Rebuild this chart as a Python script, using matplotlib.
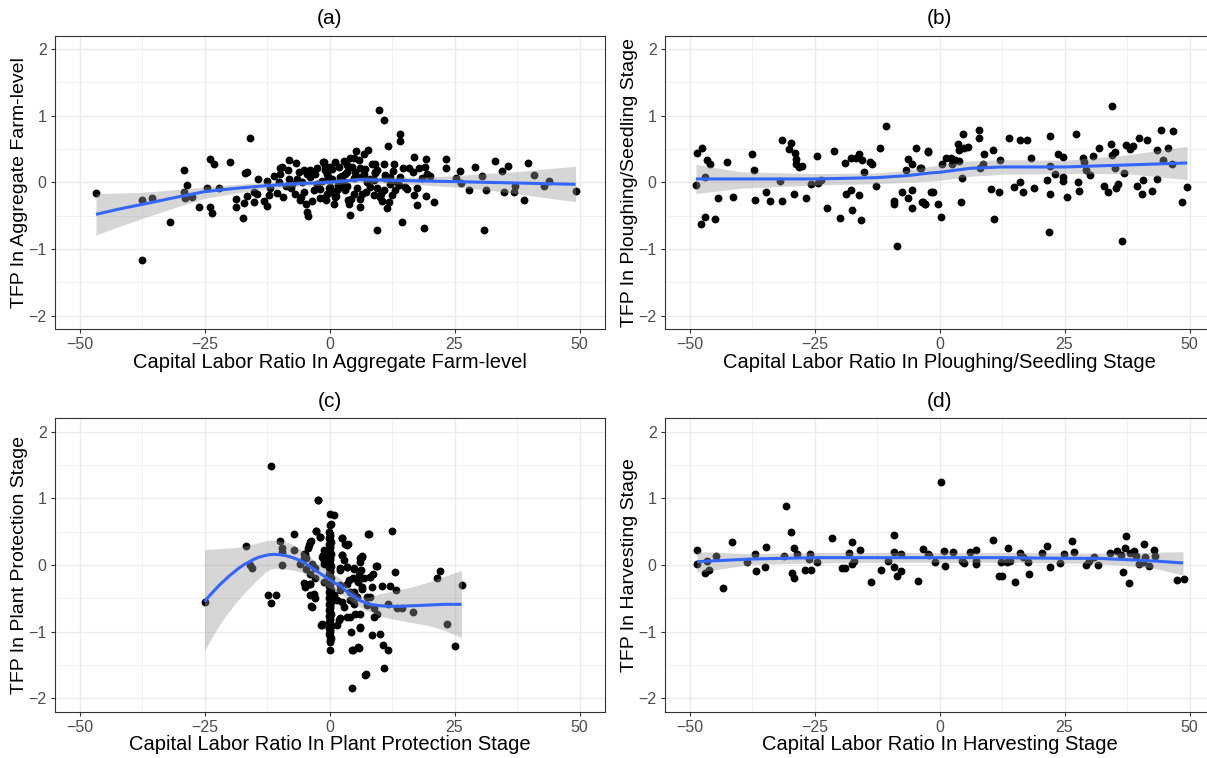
"""
Four-panel scatter: TFP vs capital-labour ratio by farming stage,
each with a loess-style smoother and its confidence band (read off the source figure).
"""

import matplotlib.pyplot as plt

plt.rcParams["font.family"] = ["Liberation Sans", "DejaVu Sans"]

# ---------------------------------------------------------------------------
# Panel (a): aggregate farm-level
# ---------------------------------------------------------------------------
A_X = [-46.7, -37.6, -35.5, -31.9, -37.6, -29.2, -28.6, -29.2, -29.0, -27.5,
       -26.1, -24.6, -24.0, -23.2, -24.0, -23.6, -22.2, -20.0, -18.8, -18.8,
       -17.4, -17.2, -17.0, -16.5, -15.9, -16.5, -15.2, -15.2, -14.6, -14.3,
       -13.1, -12.6, -12.6, -12.2, -11.9, -11.1, -10.6, -10.2, -9.9, -9.5,
       -9.4, -8.4, -8.2, -8.1, -7.8, -6.7, -6.6, -6.2, -5.8, -5.2,
       -4.8, -4.6, -4.4, -5.2, -4.0, -3.9, -3.2, -2.6, -1.9, -1.4,
       -0.9, -0.7, -0.4, -0.2,
       9.8, 10.8, 14.0, 14.1, 11.6, 5.3, 7.6, 6.8, 4.0, 4.8,
       2.8, 5.8, -1.2, 0.1, 1.8, 3.4, 4.4, 6.1, 9.1, 10.8,
       9.1, 11.1, 12.6, 14.6, 15.8, 16.8, 19.2, 19.0, 23.2, 23.2,
       26.1, 29.0, 33.0, 35.7, 34.5, 39.7, 40.9, 43.8, 42.9, 37.0,
       36.8, 34.8, 38.9, 49.2, 31.2, 30.4, 30.8, 27.9, 26.2, 25.2,
       20.1, 19.4, 18.5, 16.6, 17.4, 16.9, 17.4, 19.2, 20.8, 18.9,
       14.5, 9.4, 4.0, 6.1, 3.8, 0.8, 1.1, -1.2, 11.4, 11.8,
       12.4, 15.1, 14.1, 9.4, 10.1, 8.8, 6.4, 4.8, 3.1, 2.1,
       0.1, -0.6, 2.1, 4.8, 7.4, 6.8, 3.4, -0.6, 12.1, 13.4,
       10.8, 8.1,
       -8.8, -7.0, -5.5, -3.0, -2.0, -1.0, 0.5, 1.5, 2.5, 3.5,
       5.0, 6.0, 7.0, 8.0, 9.5, 10.5, 12.0, 13.0, -3.5, -1.5,
       0.0, 1.0, 2.0, 3.0, 5.5, 7.5, 8.5, -6.0, -4.5, 0.5,
       -10.0, -7.5, -2.5, 1.2, 2.6, 4.2, 6.6, 8.9, 11.0, 13.8,
       -0.3, 1.7, 3.7, 5.2, 7.2, 9.0, 10.2, 12.8, 15.5, 17.8]
A_Y = [-0.16, -0.27, -0.23, -0.60, -1.16, 0.18, -0.04, -0.14, -0.23, -0.22,
       -0.37, -0.08, 0.35, 0.27, -0.37, -0.46, -0.08, 0.30, -0.25, -0.37,
       -0.53, -0.31, 0.14, 0.15, 0.67, -0.20, -0.30, -0.15, -0.17, 0.05,
       -0.28, -0.35, 0.02, -0.19, -0.08, 0.10, -0.16, 0.01, 0.21, 0.23,
       -0.22, 0.18, 0.34, 0.05, -0.09, 0.29, 0.05, 0.16, -0.22, -0.14,
       -0.32, -0.44, -0.51, 0.18, 0.08, 0.18, -0.12, -0.02, -0.24, 0.31,
       0.18, -0.27, 0.08, -0.09,
       1.08, 0.94, 0.72, 0.62, 0.54, 0.47, 0.48, 0.43, 0.36, 0.36,
       0.32, 0.33, 0.31, 0.23, 0.23, 0.26, 0.23, 0.21, 0.28, 0.27,
       0.16, 0.11, 0.17, 0.22, 0.22, 0.38, 0.35, 0.23, 0.35, 0.22,
       0.17, 0.23, 0.32, 0.25, 0.17, 0.29, 0.11, 0.02, -0.05, -0.05,
       -0.14, -0.15, -0.27, -0.13, -0.11, 0.10, -0.72, -0.12, -0.01, 0.07,
       0.10, 0.12, 0.06, 0.16, -0.09, -0.19, -0.34, -0.20, -0.29, -0.69,
       -0.59, -0.72, -0.49, -0.37, -0.33, -0.33, -0.22, -0.24, -0.38, -0.29,
       -0.19, -0.07, 0.08, -0.09, -0.22, -0.19, -0.17, -0.17, -0.12, -0.07,
       -0.07, -0.17, 0.08, 0.06, 0.01, 0.13, 0.16, 0.13, -0.02, 0.01,
       -0.12, -0.07,
       -0.05, -0.18, 0.00, 0.12, -0.10, 0.25, 0.05, -0.12, 0.10, -0.05,
       0.15, -0.25, 0.20, 0.05, 0.18, -0.28, 0.08, -0.12, -0.28, 0.02,
       -0.15, 0.30, -0.02, 0.12, -0.08, 0.02, 0.28, -0.26, 0.12, 0.20,
       0.12, -0.03, 0.22, -0.20, 0.02, -0.25, 0.09, 0.04, 0.06, -0.04,
       0.20, -0.04, -0.27, 0.10, -0.14, 0.14, -0.17, 0.27, -0.10, 0.22]
A_FIT_X = [-46.7, -42.0, -37.4, -31.0, -25.0, -18.7, -12.5, -6.2, 0.0, 6.1,
           12.4, 18.7, 25.0, 31.0, 37.4, 43.0, 49.2]
A_FIT_Y = [-0.48, -0.40, -0.33, -0.23, -0.14, -0.09, -0.05, -0.02, 0.00, 0.04,
           0.03, 0.02, 0.01, 0.00, -0.01, -0.02, -0.03]
A_LO = [-0.79, -0.66, -0.54, -0.38, -0.24, -0.16, -0.10, -0.06, -0.04, 0.00,
        -0.02, -0.04, -0.07, -0.11, -0.17, -0.23, -0.29]
A_HI = [-0.17, -0.16, -0.15, -0.11, -0.07, -0.03, 0.00, 0.02, 0.04, 0.08,
        0.08, 0.08, 0.10, 0.13, 0.16, 0.20, 0.24]

# ---------------------------------------------------------------------------
# Panel (b): ploughing / seedling stage
# ---------------------------------------------------------------------------
B_X = [-48.7, -48.5, -47.6, -46.9, -46.9, -47.7, -46.5, -45.9, -45.0, -44.4,
       -42.6, -41.3, -37.5, -37.1, -37.0, -34.8, -34.0, -31.9, -31.6, -31.6,
       -30.2, -29.7, -29.0, -28.7, -28.7, -28.2, -27.5, -29.2, -26.7, -25.7,
       -24.6, -24.3, -23.7, -22.5, -21.2, -19.9, -18.9, -18.8, -17.8, -17.6,
       -17.7, -16.8, -16.1, -16.1, -15.8, -15.6, -15.1, -14.0, -13.6, -12.8,
       -11.9, -10.7, -9.1, -9.1, -8.5, -7.5, -6.8, -6.3, -6.4, -5.6,
       -5.5, -5.5, -4.7, -4.0, -3.5, -3.0, -2.3, -1.8,
       -3.8, -2.3, -3.3, -2.9, -1.4, -0.3, 0.3, 0.5, 1.3, 2.2,
       2.4, 3.1, 3.9, 3.7, 3.8, 4.6, 4.4, 4.2, 4.9, 5.7,
       7.8, 7.8, 8.1, 8.8, 8.6, 10.2, 10.7, 10.9, 11.8, 12.0,
       13.8, 14.9, 16.0, 16.0, 16.7, 17.4, 18.2, 18.8, 21.5, 22.1,
       22.1, 22.1, 21.9, 23.1, 23.6, 24.6, 24.6, 24.7, 25.5, 27.2,
       27.6, 27.9, 28.7, 28.8, 29.2, 30.1, 30.7, 31.9, 32.9, 33.6,
       34.3, 34.4, 34.5, 35.0, 35.1, 35.3, 35.7, 36.4, 36.8, 37.3,
       38.1, 38.7, 39.4, 39.9, 40.4, 40.6, 41.4, 42.4, 43.4, 43.5,
       44.2, 44.6, 45.6, 46.4, 46.6, 48.4, 49.5]
B_Y = [-0.04, 0.44, 0.52, 0.08, -0.52, -0.63, 0.33, 0.28, -0.55, -0.24,
       0.31, -0.22, 0.42, 0.18, -0.27, -0.14, -0.28, 0.02, 0.64, -0.28,
       0.50, 0.59, 0.44, 0.35, 0.28, 0.23, 0.24, -0.18, -0.24, -0.03,
       0.39, -0.01, 0.04, -0.39, 0.47, -0.54, 0.29, -0.18, -0.12, -0.42,
       0.36, 0.36, 0.42, -0.19, -0.57, 0.33, 0.15, 0.30, 0.28, -0.06,
       0.52, 0.84, -0.28, -0.33, -0.96, -0.15, 0.18, 0.35, -0.23, 0.27,
       -0.12, -0.39, 0.52, 0.22, -0.30, -0.33, 0.46, -0.14,
       0.22, 0.47, -0.30, -0.33, -0.14, -0.32, -0.52, 0.28, 0.37, 0.36,
       0.28, 0.34, 0.32, 0.57, 0.49, 0.72, 0.06, -0.30, 0.51, 0.53,
       0.79, 0.67, 0.21, 0.42, 0.28, -0.10, 0.48, -0.55, -0.14, 0.34,
       0.67, -0.07, 0.63, 0.01, -0.14, 0.63, 0.37, -0.09, 0.03, 0.69,
       0.25, -0.17, -0.74, 0.13, 0.43, 0.38, 0.08, 0.02, -0.22, 0.73,
       0.01, -0.13, 0.37, 0.30, 0.18, 0.11, 0.39, 0.52, -0.05, -0.14,
       0.58, 0.41, 1.14, 0.46, 0.21, -0.09, -0.02, -0.88, 0.14, 0.56,
       0.50, 0.55, -0.05, 0.67, -0.17, 0.04, 0.64, -0.13, 0.05, 0.48,
       0.78, 0.33, 0.51, 0.28, 0.77, -0.29, -0.07]
B_FIT_X = [-48.7, -40.0, -25.0, -12.5, -6.5, -1.8, 0.0, 3.0, 6.2, 12.5,
           25.0, 37.5, 49.5]
B_FIT_Y = [0.05, 0.05, 0.05, 0.07, 0.10, 0.14, 0.15, 0.18, 0.21, 0.23,
           0.23, 0.26, 0.29]
B_LO = [-0.17, -0.09, -0.04, -0.02, 0.00, 0.02, 0.03, 0.06, 0.09, 0.12,
        0.13, 0.13, 0.04]
B_HI = [0.27, 0.16, 0.13, 0.14, 0.18, 0.24, 0.26, 0.29, 0.32, 0.34,
        0.33, 0.41, 0.54]

# ---------------------------------------------------------------------------
# Panel (c): plant protection stage
# ---------------------------------------------------------------------------
C_X = [-25.0, -16.8, -15.9, -15.6, -12.4, -11.8, -10.8, -11.7, -10.0, -9.6,
       -9.6, -9.6, -7.2, -7.2, -5.9, -4.9, -4.8, -4.7, -5.1, -4.9,
       -4.2, -3.7, -3.6, -3.9, -3.9, -3.7, -2.9, -2.9, -2.7, -2.4,
       -2.0, -1.7, -1.4, -1.2, -1.2,
       0.8, 2.4, 3.1, 3.6, 7.6, 12.4, 2.4, 6.1, 6.4, 3.4,
       2.1, 4.8, 6.2, 9.2, 8.1, 8.6, 13.0, 6.8, 4.6, 5.6,
       3.4, 2.1, 10.5, 12.0, 13.2, 6.5, 4.1, 5.4, 8.1, 0.8,
       2.4, 4.8, 7.4, 11.6, 13.4, 14.5, 16.6, 8.8, 6.1, 8.8,
       3.4, 2.1, -1.6, 1.4, 6.1, 4.3, 8.4, 10.0, 10.6, 11.6,
       5.7, 4.6, 10.8, 7.2, 4.5, 21.4, 22.0, 26.4, 23.4, 25.0,
       -2.3, -2.7, -2.0, -3.9, -4.4, -5.1, -5.2, -1.2, -1.6, -1.2,
       -2.9, -3.9, -4.9, -3.9, -3.2, -3.6, -1.6, 2.4, 3.4, 2.4,
       2.8, 2.1, 3.4, 4.8, 6.4, 6.1, 5.8, 7.8, 9.4, 8.1,
       8.4, 7.4, 9.4, 2.1, 1.4, 2.8, 1.8, 4.1, 5.1, 6.1,
       4.4, 5.8, 7.1, 3.8, 4.8, 6.4, 4.1,
       # the dense column of farms sitting at (or next to) zero
       0.0, 0.2, -0.2, 0.0, 0.1, -0.1, 0.0, 0.2, -0.2, 0.0,
       0.1, -0.1, 0.0, 0.2, -0.2, 0.0, 0.1, -0.1, 0.0, 0.2,
       -0.2, 0.0, 0.1, -0.1, 0.0, 0.2, -0.2, 0.0, 0.1, -0.1,
       0.0, 0.2, -0.2, 0.0, 0.1, -0.1, 0.0, 0.2, -0.2, 0.0,
       0.1, -0.1, 0.0, 0.2, -0.2, 0.0, 0.1, -0.1, 0.0, 0.2,
       -0.2, 0.0, 0.1, -0.1, 0.0, 0.2, 0.0, 0.0, 0.0, 0.0]
C_Y = [-0.55, 0.29, 0.00, -0.05, -0.45, -0.57, -0.45, 1.49, 0.36, 0.25,
       0.20, 0.00, 0.47, 0.23, 0.01, 0.17, 0.11, -0.06, -0.27, -0.33,
       0.30, 0.36, 0.01, -0.28, -0.45, -0.62, -0.50, -0.19, 0.51, 0.98,
       0.42, -0.90, 0.15, 0.06, -0.25,
       0.75, 0.41, 0.32, 0.31, 0.46, 0.51, 0.15, 0.10, 0.14, -0.03,
       -0.05, -0.06, -0.08, -0.02, -0.18, -0.14, -0.10, -0.19, -0.19, -0.25,
       -0.28, -0.30, -0.31, -0.31, -0.37, -0.36, -0.40, -0.48, -0.48, -0.45,
       -0.55, -0.59, -0.60, -0.59, -0.64, -0.64, -0.70, -0.65, -0.74, -0.78,
       -0.78, -0.80, -0.90, -0.90, -0.94, -1.00, -1.05, -1.03, -1.20, -1.27,
       -1.23, -1.28, -1.55, -1.64, -1.85, -0.20, -0.09, -0.30, -0.88, -1.21,
       0.97, 0.51, 0.42, 0.35, 0.26, 0.17, 0.10, 0.22, 0.12, 0.02,
       -0.05, -0.13, -0.29, -0.28, -0.43, -0.63, -0.89, 0.40, 0.30, 0.15,
       0.07, -0.08, -0.03, -0.05, 0.12, 0.05, -0.15, 0.46, -0.02, -0.18,
       -0.33, -0.48, -0.73, -0.38, -0.53, -0.63, -0.83, -0.78, -0.73, -0.93,
       -1.28, -1.24, -1.65, -0.23, -0.40, -0.33, -0.53,
       0.76, 0.62, 0.50, 0.47, 0.44, 0.40, 0.37, 0.34, 0.31, 0.28,
       0.25, 0.22, 0.19, 0.16, 0.13, 0.10, 0.07, 0.04, 0.01, -0.02,
       -0.05, -0.08, -0.11, -0.14, -0.17, -0.20, -0.23, -0.26, -0.29, -0.32,
       -0.35, -0.38, -0.41, -0.44, -0.47, -0.50, -0.53, -0.56, -0.59, -0.62,
       -0.65, -0.68, -0.71, -0.74, -0.77, -0.80, -0.83, -0.86, -0.89, -0.92,
       -0.95, -0.98, -1.01, -1.04, -1.07, -1.10, -1.13, -1.16, -1.28, 0.60]
C_FIT_X = [-25.0, -24.0, -23.0, -22.0, -21.0, -20.0, -19.0, -18.0, -17.0, -16.0,
           -15.0, -14.0, -13.0, -12.0, -11.0, -10.0, -9.0, -8.0, -7.0, -6.0,
           -5.0, -4.0, -3.0, -2.0, -1.0, 0.0, 1.0, 2.0, 3.0, 4.0,
           5.0, 6.0, 7.0, 8.0, 9.0, 10.0, 12.0, 14.0, 17.0, 20.0,
           23.0, 26.4]
C_FIT_Y = [-0.55, -0.46, -0.38, -0.30, -0.23, -0.16, -0.10, -0.04, 0.01, 0.05,
           0.09, 0.12, 0.14, 0.155, 0.16, 0.155, 0.145, 0.125, 0.10, 0.07,
           0.03, -0.02, -0.07, -0.12, -0.17, -0.22, -0.27, -0.30, -0.37, -0.43,
           -0.48, -0.53, -0.56, -0.59, -0.60, -0.61, -0.62, -0.62, -0.61, -0.60,
           -0.59, -0.59]
C_LO = [-1.29, -1.15, -1.02, -0.90, -0.79, -0.69, -0.59, -0.50, -0.42, -0.34,
        -0.26, -0.19, -0.12, -0.07, -0.05, -0.05, -0.06, -0.07, -0.08, -0.10,
        -0.12, -0.16, -0.20, -0.25, -0.30, -0.35, -0.38, -0.42, -0.47, -0.53,
        -0.58, -0.63, -0.67, -0.70, -0.73, -0.76, -0.80, -0.83, -0.87, -0.91,
        -0.98, -1.09]
C_HI = [0.23, 0.235, 0.24, 0.245, 0.25, 0.255, 0.26, 0.27, 0.28, 0.30,
        0.32, 0.34, 0.36, 0.37, 0.37, 0.36, 0.35, 0.33, 0.29, 0.24,
        0.19, 0.13, 0.06, 0.00, -0.05, -0.10, -0.15, -0.19, -0.27, -0.35,
        -0.41, -0.46, -0.48, -0.48, -0.46, -0.43, -0.40, -0.37, -0.32, -0.25,
        -0.17, -0.08]

# ---------------------------------------------------------------------------
# Panel (d): harvesting stage
# ---------------------------------------------------------------------------
D_X = [-48.6, -48.5, -46.9, -46.5, -46.2, -44.7, -43.3, -41.5, -38.6, -36.9,
       -36.7, -35.0, -34.7, -31.2, -30.8, -29.8, -29.5, -29.2, -29.2, -28.5,
       -27.0, -26.0, -26.1, -25.8, -24.6, -21.5, -19.5, -18.9, -18.1, -17.6,
       -17.5, -17.1, -15.9, -13.7, -11.7, -10.4, -9.1, -9.1, -9.1, -8.5,
       -7.8, -7.7, -4.3, -3.3, -2.3,
       -2.1, -0.9, 0.2, 0.9, 1.1, 2.7, 4.4, 4.8, 6.1, 7.3,
       7.2, 7.2, 10.7, 11.9, 12.4, 12.2, 13.7, 13.4, 14.0, 15.0,
       16.0, 16.6, 17.6, 17.8, 20.5, 21.5, 22.0, 24.1, 24.9, 26.4,
       26.9, 29.3, 29.9, 30.9, 31.6, 34.1, 35.4, 36.3, 36.6, 37.0,
       37.3, 37.8, 38.0, 38.8, 39.3, 39.8, 40.6, 40.9, 41.0, 41.8,
       42.8, 43.0, 47.4, 48.8]
D_Y = [0.23, 0.02, -0.12, 0.06, -0.07, 0.14, -0.35, 0.34, 0.04, 0.16,
       -0.09, -0.03, 0.27, 0.14, 0.89, 0.49, -0.12, -0.19, 0.25, 0.17,
       -0.07, 0.17, 0.09, -0.08, 0.04, 0.41, -0.04, -0.05, 0.18, 0.02,
       0.34, 0.06, 0.22, -0.25, -0.08, 0.06, 0.45, 0.19, -0.03, -0.17,
       -0.09, 0.17, -0.24, 0.24, 0.16,
       0.15, 0.04, 1.24, 0.21, -0.02, 0.19, 0.06, 0.03, 0.20, 0.23,
       0.06, 0.02, 0.37, -0.17, -0.16, 0.04, 0.25, 0.05, 0.06, -0.25,
       0.18, 0.12, 0.05, -0.14, 0.18, 0.28, -0.03, 0.03, 0.16, 0.36,
       0.19, 0.00, 0.06, 0.12, 0.00, 0.18, 0.21, 0.15, -0.11, 0.26,
       0.44, -0.27, 0.18, 0.21, 0.14, 0.02, 0.05, 0.32, 0.12, -0.02,
       0.22, 0.13, -0.22, -0.21]
D_FIT_X = [-48.5, -37.5, -25.0, -12.5, 0.0, 12.5, 25.0, 31.6, 37.5, 43.0, 48.7]
D_FIT_Y = [0.05, 0.09, 0.11, 0.11, 0.11, 0.11, 0.10, 0.10, 0.08, 0.06, 0.03]
D_LO = [-0.11, 0.01, 0.03, 0.04, 0.04, 0.04, 0.03, 0.02, -0.01, -0.05, -0.15]
D_HI = [0.20, 0.17, 0.19, 0.19, 0.19, 0.19, 0.18, 0.18, 0.18, 0.19, 0.20]

PANELS = [
    ("(a)", A_X, A_Y, A_FIT_X, A_FIT_Y, A_LO, A_HI,
     "Capital Labor Ratio In Aggregate Farm-level", "TFP In Aggregate Farm-level"),
    ("(b)", B_X, B_Y, B_FIT_X, B_FIT_Y, B_LO, B_HI,
     "Capital Labor Ratio In Ploughing/Seedling Stage", "TFP In Ploughing/Seedling Stage"),
    ("(c)", C_X, C_Y, C_FIT_X, C_FIT_Y, C_LO, C_HI,
     "Capital Labor Ratio In Plant Protection Stage", "TFP In Plant Protection Stage"),
    ("(d)", D_X, D_Y, D_FIT_X, D_FIT_Y, D_LO, D_HI,
     "Capital Labor Ratio In Harvesting Stage", "TFP In Harvesting Stage"),
]

# axes rectangles in figure fractions (1207 x 758 canvas)
W, H = 1207, 758
RECTS = [
    (54.5 / W, 1 - 329.0 / H, 550 / W, 293.4 / H),
    (664.5 / W, 1 - 329.0 / H, 550 / W, 293.4 / H),
    (54.5 / W, 1 - 711.7 / H, 550 / W, 293.4 / H),
    (664.5 / W, 1 - 711.7 / H, 550 / W, 293.4 / H),
]

GRID = "#EBEBEB"
BORDER = "#333333"


def draw_panel(ax, title, xs, ys, fx, fy, lo, hi, xlabel, ylabel):
    ax.scatter(xs, ys, s=32, color="black", linewidths=0, zorder=3)
    ax.fill_between(fx, lo, hi, color="#999999", alpha=0.4, linewidth=0, zorder=4)
    ax.plot(fx, fy, color="#3366FF", lw=2.2, zorder=5, solid_capstyle="butt")

    ax.set_xlim(-55, 55)
    ax.set_ylim(-2.2, 2.2)
    ax.set_xticks([-50, -25, 0, 25, 50])
    ax.set_yticks([-2, -1, 0, 1, 2])
    ax.set_xticks([-37.5, -12.5, 12.5, 37.5], minor=True)
    ax.set_yticks([-1.5, -0.5, 0.5, 1.5], minor=True)
    ax.grid(which="major", color=GRID, lw=1.0, zorder=0)
    ax.grid(which="minor", color=GRID, lw=0.5, zorder=0)
    ax.set_axisbelow(True)
    ax.tick_params(which="major", length=3.2, width=0.8, color=BORDER,
                   labelcolor="#4D4D4D", labelsize=11.5, pad=2.5)
    ax.tick_params(which="minor", length=0)
    for sp in ax.spines.values():
        sp.set_color(BORDER)
        sp.set_linewidth(0.8)

    ax.set_title(title, fontsize=15, pad=8)
    ax.set_xlabel(xlabel, fontsize=14.5)
    ax.set_ylabel(ylabel, fontsize=14)
    ax.xaxis.label.set_va("center")
    ax.yaxis.label.set_va("center")
    ax.xaxis.set_label_coords(0.5, -0.113)
    ax.yaxis.set_label_coords(-0.064, 0.5)


fig = plt.figure(figsize=(W / 100, H / 100), dpi=100)
for rect, panel in zip(RECTS, PANELS):
    ax = fig.add_axes(rect)
    draw_panel(ax, *panel)

fig.savefig("out.png", dpi=100)
